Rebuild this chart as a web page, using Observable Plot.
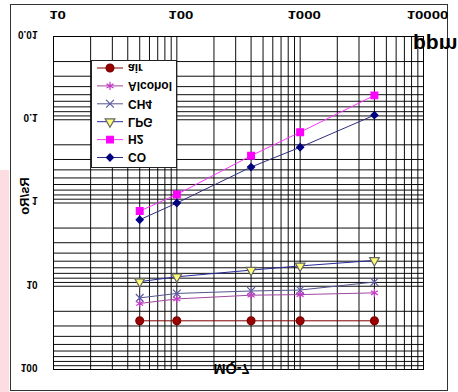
<!DOCTYPE html>
<html><head><meta charset="utf-8">
<script src="https://cdn.jsdelivr.net/npm/d3@7"></script>
<script src="https://cdn.jsdelivr.net/npm/@observablehq/plot@0.6"></script>
<style>
body{margin:0;background:#fff;font-family:"Liberation Sans",Arial,sans-serif;}
#fig{position:relative;width:458px;height:392px;transform:scaleY(-1);transform-origin:50% 50%;overflow:hidden;background:#fff;}
#fig svg{position:absolute;left:0;top:0;}
</style></head><body><div id="fig"></div>
<script>
// ---- data ----
const ppm = [50, 100, 400, 1000, 4000];
const seriesNames = ["CO", "H2", "LPG", "CH4", "Alcohol", "air"];
const coValues = [1.59, 1.0, 0.37, 0.214, 0.088];
const h2Values = [1.25, 0.79, 0.27, 0.141, 0.051];
const lpgValues = [8.8, 7.7, 6.4, 5.7, 4.9];
const ch4Values = [13.8, 12.2, 11.4, 11.1, 8.9];
const alcoholValues = [16.1, 14.2, 12.8, 12.6, 12.0];
const airValues = [26, 26, 26, 26, 26];
const xTickLabels = [10, 100, 1000, 10000];
const yTickLabels = [0.01, 0.1, 1, 10, 100];
const titleText = "MQ-7";
const xLabelText = "ppm";
const yLabelText = "Rs/Ro";

const valuesBySeries = {CO: coValues, H2: h2Values, LPG: lpgValues, CH4: ch4Values, Alcohol: alcoholValues, air: airValues};
const styles = {
  CO:      {line: "#2e2e80", symbol: "diamond2", fill: "#000080", stroke: "#000080", r: 3.2},
  H2:      {line: "#ff33ff", symbol: "square",   fill: "#ff00ff", stroke: "#ff00ff", r: 3.8},
  LPG:     {line: "#28289a", symbol: "triangle", fill: "#ffff77", stroke: "#666666", r: 3.6},
  CH4:     {line: "#55558f", symbol: "times",    fill: "none",    stroke: "#5a5aa8", r: 3.6},
  Alcohol: {line: "#a048a0", symbol: "asterisk", fill: "none",    stroke: "#c838c8", r: 3.8},
  air:     {line: "#800000", symbol: "circle",   fill: "#990000", stroke: "#800000", r: 3.9}
};

const rows = seriesNames.flatMap(s => ppm.map((p, i) => ({series: s, ppm: p, value: valuesBySeries[s][i]})));

const xDomain = [xTickLabels[0], xTickLabels[xTickLabels.length - 1]];
const yDomain = [yTickLabels[0], yTickLabels[yTickLabels.length - 1]];
const xGrid = d3.scaleLog().domain(xDomain).ticks();
const yGrid = d3.scaleLog().domain(yDomain).ticks();

const W = 458, H = 392;
const seriesMarks = seriesNames.flatMap(s => {
  const st = styles[s];
  const data = rows.filter(d => d.series === s);
  return [
    Plot.line(data, {x: "ppm", y: "value", stroke: st.line, strokeWidth: 1}),
    Plot.dot(data, {x: "ppm", y: "value", symbol: () => st.symbol, fill: st.fill, stroke: st.stroke, strokeWidth: 1.2, r: st.r})
  ];
});

const plot = Plot.plot({
  width: W, height: H,
  marginLeft: 53, marginRight: 35, marginTop: 22, marginBottom: 37,
  x: {type: "log", domain: xDomain},
  y: {type: "log", domain: yDomain},
  symbol: {type: "identity"},
  style: {background: "transparent", fontFamily: "Liberation Sans, Arial, sans-serif", overflow: "visible"},
  marks: [
    Plot.ruleX(xGrid, {stroke: "#000", strokeOpacity: 0.95}),
    Plot.ruleY(yGrid, {stroke: "#000", strokeOpacity: 0.95}),
    Plot.frame({stroke: "#000"}),
    Plot.axisX(xTickLabels, {anchor: "bottom", tickSize: 0, tickPadding: 18, fontSize: 10, fontWeight: "bold", fill: "#000", tickFormat: d => String(d), dx: 4, label: null}),
    Plot.axisY(yTickLabels, {anchor: "left", tickSize: 0, tickPadding: 16, fontSize: 10, fontWeight: "bold", fill: "#000", tickFormat: d => String(d), dy: 2.5, label: null}),
    ...seriesMarks
  ]
});

// stretch x tick labels horizontally like the reference
d3.select(plot).selectAll('g[aria-label="x-axis tick label"] text').each(function() {
  const t = this.getAttribute("transform");
  if (t) this.setAttribute("transform", t + " scale(1.5,1)");
});

const fig = document.getElementById("fig");

// background decorations (below chart)
const bg = d3.create("svg").attr("width", W).attr("height", H);
bg.append("rect").attr("x", 0).attr("y", 0).attr("width", 9).attr("height", 222).attr("fill", "#fcdde2");
bg.append("rect").attr("x", 10.5).attr("y", 1.5).attr("width", 437).attr("height", 386).attr("fill", "#fff").attr("stroke", "#333");
fig.appendChild(bg.node());
fig.appendChild(plot);

// overlay: title, axis names, legend
const ov = d3.create("svg").attr("width", W).attr("height", H).style("overflow", "visible");
ov.append("text").attr("x", 231.5).attr("y", 28).attr("text-anchor", "middle")
  .attr("font-size", 14.5).attr("font-weight", "bold").text(titleText);
ov.append("text").attr("x", 413).attr("y", 354).attr("font-size", 21).attr("font-weight", "bold").text(xLabelText);
ov.append("text").attr("transform", "translate(29,196) rotate(-90)").attr("text-anchor", "middle")
  .attr("font-size", 13).attr("font-weight", "bold").text(yLabelText);

const lg = ov.append("g");
lg.append("rect").attr("x", 91.5).attr("y", 224.5).attr("width", 85).attr("height", 107).attr("fill", "#fff").attr("stroke", "#222");
const symMap = {circle: d3.symbolCircle, square: d3.symbolSquare, triangle: d3.symbolTriangle, diamond2: d3.symbolDiamond2, times: d3.symbolTimes, asterisk: d3.symbolAsterisk};
seriesNames.forEach((s, i) => {
  const st = styles[s];
  const y = 234.5 + i * 17.9;
  lg.append("line").attr("x1", 97).attr("x2", 123).attr("y1", y).attr("y2", y).attr("stroke", st.line);
  lg.append("path").attr("transform", `translate(110,${y})`)
    .attr("d", d3.symbol(symMap[st.symbol], Math.PI * st.r * st.r)())
    .attr("fill", st.fill).attr("stroke", st.stroke).attr("stroke-width", 1.2);
  lg.append("text").attr("x", 128).attr("y", y + 4.2).attr("font-size", 12).attr("font-weight", "bold").text(s);
});
fig.appendChild(ov.node());
</script>
</body></html>
